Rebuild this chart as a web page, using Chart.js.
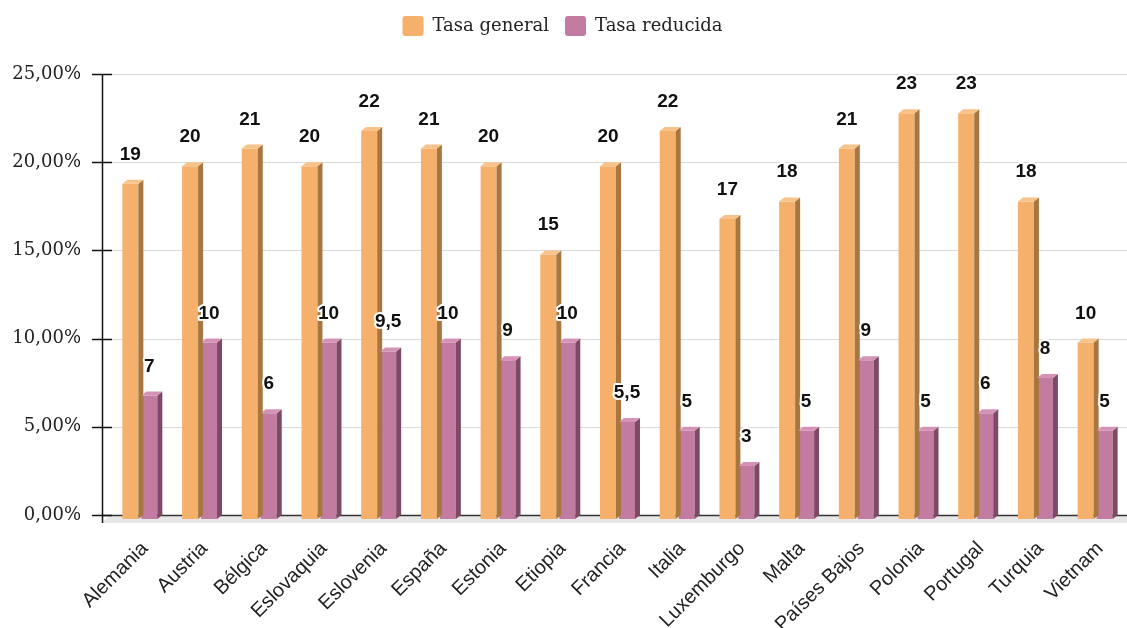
<!DOCTYPE html>
<html>
<head>
<meta charset="utf-8">
<script src="https://cdn.jsdelivr.net/npm/chart.js@4"></script>
<style>
  html, body { margin: 0; padding: 0; background: #fff; }
  #wrap { width: 1127px; height: 628px; }
</style>
</head>
<body>
<div id="wrap"><canvas id="myChart"></canvas></div>
<script>
// datos
const paises = ["Alemania", "Austria", "Bélgica", "Eslovaquia", "Eslovenia", "España", "Estonia", "Etiopia",
  "Francia", "Italia", "Luxemburgo", "Malta", "Países Bajos", "Polonia", "Portugal", "Turquia", "Vietnam"];
const tasaGeneral = [19, 20, 21, 20, 22, 21, 20, 15, 20, 22, 17, 18, 21, 23, 23, 18, 10];
const tasaReducida = [7, 10, 6, 10, 9.5, 10, 9, 10, 5.5, 5, 3, 5, 9, 5, 6, 8, 5];
const yTicks = [0, 5, 10, 15, 20, 25];

// colores: frente, lado, arriba
const naranja = ['#F5B06B', '#A8773F', '#F8C28B'];
const morado = ['#C27BA1', '#7E4965', '#D493B6'];

const DX = 5, DY = 4; // profundidad 3d

const fmt = v => String(v).replace('.', ',');

// la leyenda ocupa mas alto (deja el hueco hasta el grafico)
const altoLeyenda = {
  id: 'altoLeyenda',
  beforeLayout(chart) {
    const lg = chart.legend;
    if (lg && !lg._alto) {
      const f = lg.fit;
      lg.fit = function() { f.call(this); this.height += 28; };
      lg._alto = true;
    }
  }
};

// fondo, rejilla y eje
const fondo = {
  id: 'fondo',
  beforeDatasetsDraw(chart) {
    const ctx = chart.ctx;
    const a = chart.chartArea;
    const y = chart.scales.y;
    const x0 = a.left - 8;
    ctx.save();
    // piso
    const b = y.getPixelForValue(0);
    ctx.fillStyle = '#e8e8e8';
    ctx.beginPath();
    ctx.moveTo(x0, b + 8);
    ctx.lineTo(x0 + 8, b);
    ctx.lineTo(chart.width, b);
    ctx.lineTo(chart.width, b + 8);
    ctx.closePath();
    ctx.fill();
    // rejilla
    yTicks.forEach(t => {
      const py = Math.round(y.getPixelForValue(t)) + 0.5;
      ctx.lineWidth = t === 0 ? 1.5 : 1.2;
      ctx.strokeStyle = t === 0 ? '#333' : '#d9d9d9';
      ctx.beginPath();
      ctx.moveTo(t === 0 ? x0 : a.left + 2, py);
      ctx.lineTo(chart.width, py);
      ctx.stroke();
      // marca
      ctx.lineWidth = 1.5;
      ctx.strokeStyle = '#111';
      ctx.beginPath();
      ctx.moveTo(x0 - 10, py);
      ctx.lineTo(x0 + 10, py);
      ctx.stroke();
    });
    // eje y
    ctx.strokeStyle = '#111';
    ctx.beginPath();
    ctx.moveTo(x0 + 0.5, y.getPixelForValue(25));
    ctx.lineTo(x0 + 0.5, b + 8);
    ctx.stroke();
    ctx.restore();
    // el frente de las barras va un poco mas abajo
    ctx.save();
    ctx.translate(0, DY);
  },
  afterDatasetsDraw(chart) {
    const ctx = chart.ctx;
    ctx.restore();
    ctx.save();
    chart.data.datasets.forEach((ds, i) => {
      const cols = i === 0 ? naranja : morado;
      chart.getDatasetMeta(i).data.forEach((bar, j) => {
        const l = bar.x - bar.width / 2, r = bar.x + bar.width / 2;
        const top = bar.y + DY, base = bar.base + DY;
        // lado
        ctx.fillStyle = cols[1];
        ctx.beginPath();
        ctx.moveTo(r, top);
        ctx.lineTo(r + DX, top - DY);
        ctx.lineTo(r + DX, base - DY);
        ctx.lineTo(r, base);
        ctx.closePath();
        ctx.fill();
        // arriba
        ctx.fillStyle = cols[2];
        ctx.beginPath();
        ctx.moveTo(l, top);
        ctx.lineTo(l + DX, top - DY);
        ctx.lineTo(r + DX, top - DY);
        ctx.lineTo(r, top);
        ctx.closePath();
        ctx.fill();
      });
    });
    // etiquetas
    ctx.font = 'bold 19px "Liberation Sans", Arial, sans-serif';
    ctx.textAlign = 'center';
    ctx.textBaseline = 'alphabetic';
    ctx.lineJoin = 'round';
    chart.data.datasets.forEach((ds, i) => {
      chart.getDatasetMeta(i).data.forEach((bar, j) => {
        const txt = fmt(ds.data[j]);
        const ty = bar.y - 20;
        ctx.strokeStyle = '#fff';
        ctx.lineWidth = 4;
        ctx.strokeText(txt, bar.x, ty);
        ctx.fillStyle = '#111';
        ctx.fillText(txt, bar.x, ty);
      });
    });
    ctx.restore();
  }
};

const ctx = document.getElementById('myChart').getContext('2d');
const myChart = new Chart(ctx, {
  type: 'bar',
  data: {
    labels: paises,
    datasets: [
      {
        label: 'Tasa general',
        data: tasaGeneral,
        backgroundColor: naranja[0],
        borderWidth: 0
      },
      {
        label: 'Tasa reducida',
        data: tasaReducida,
        backgroundColor: morado[0],
        borderWidth: 0
      }
    ]
  },
  options: {
    responsive: true,
    maintainAspectRatio: false,
    animation: false,
    layout: { padding: { top: 0, right: 2, left: 0, bottom: 0 } },
    datasets: {
      bar: { categoryPercentage: 0.636, barPercentage: 0.842, clip: false }
    },
    plugins: {
      legend: {
        position: 'top',
        labels: {
          boxWidth: 21,
          boxHeight: 20,
          padding: 16,
          useBorderRadius: true,
          borderRadius: 3,
          color: '#222',
          font: { family: '"DejaVu Serif", Georgia, serif', size: 18 }
        }
      },
      tooltip: { enabled: false }
    },
    scales: {
      x: {
        grid: { display: false, drawTicks: false },
        border: { display: false },
        ticks: {
          minRotation: 45,
          maxRotation: 45,
          padding: 22,
          labelOffset: 5,
          color: '#222',
          font: { family: '"Liberation Sans", Arial, sans-serif', size: 20 }
        },
        afterFit: s => { s.height = 113; s.paddingLeft = 0; s.paddingRight = 0; }
      },
      y: {
        min: 0,
        max: 25,
        afterBuildTicks: s => { s.ticks = yTicks.map(v => ({ value: v })); },
        grid: { display: false, drawTicks: false },
        border: { display: false },
        ticks: {
          padding: 29,
          color: '#222',
          font: { family: '"DejaVu Serif", Georgia, serif', size: 18 },
          callback: v => v.toFixed(2).replace('.', ',') + '%'
        },
        afterFit: s => { s.width = 110; }
      }
    }
  },
  plugins: [altoLeyenda, fondo]
});
</script>
</body>
</html>
